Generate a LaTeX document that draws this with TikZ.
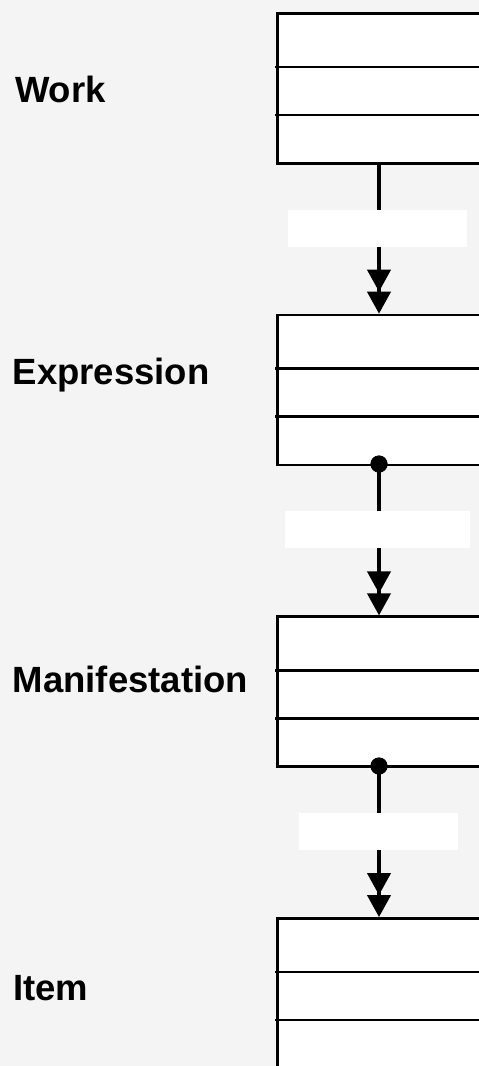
\documentclass[tikz,border=0pt]{standalone}
\usepackage{fontspec}
\setmainfont{Liberation Sans}
\usetikzlibrary{arrows.meta}
\definecolor{bg}{HTML}{F4F4F4}
\begin{document}
\begin{tikzpicture}[x=1pt,y=-1pt,
  boxline/.style={line width=2.5pt,line cap=rect},
  conn/.style={line width=4pt,-{Triangle[width=23pt,length=22pt,sep=0pt]Triangle[width=23pt,length=22pt]}},
  gap/.style={fill=white,inner sep=0pt,outer sep=0pt},
  lbl/.style={anchor=base west,inner sep=0pt,font=\fontsize{36.5}{40}\selectfont\bfseries},
  dot/.style={circle,fill=black,inner sep=0pt,minimum size=17pt}]
\fill[bg] (0,0) rectangle (479,1066);
\useasboundingbox (0,0) rectangle (479,1066);
\clip (0,0) rectangle (479,1066);
% boxes
\foreach \t [count=\i] in {12,313.7,615.4,917.1}{
  \node[fill=white,draw=black,line width=2.5pt,inner sep=0pt,anchor=north west,
        minimum width=260pt,minimum height=150pt] (b\i) at (276,\t) {};
  \draw[boxline] (276,\t+55) -- (520,\t+55);
  \draw[boxline] (276,\t+103) -- (520,\t+103);
}
% labels
\node[lbl] (t1) at (15,102) {Work};
\node[lbl] (t2) at (12.5,384) {Expression};
\node[lbl] (t3) at (12.5,692) {Manifestation};
\node[lbl] (t4) at (13,1000) {Item};
% connection points
\coordinate (s1) at (379,162);
\coordinate (e1) at (379,313.7);
\node[dot] (s2) at (379,464) {};
\coordinate (e2) at (379,615.4);
\node[dot] (s3) at (379,766) {};
\coordinate (e3) at (379,917.1);
% connectors
\draw[conn] (s1) -- (e1);
\draw[conn] (s2.center) -- (e2);
\draw[conn] (s3.center) -- (e3);
\node[dot] at (s2) {};
\node[dot] at (s3) {};
% white label plates
\node[gap,anchor=north west,minimum width=179pt,minimum height=37pt] (g1) at (288,210) {};
\node[gap,anchor=north west,minimum width=185pt,minimum height=37pt] (g2) at (285,511) {};
\node[gap,anchor=north west,minimum width=159pt,minimum height=37pt] (g3) at (299,813) {};
\end{tikzpicture}
\end{document}
